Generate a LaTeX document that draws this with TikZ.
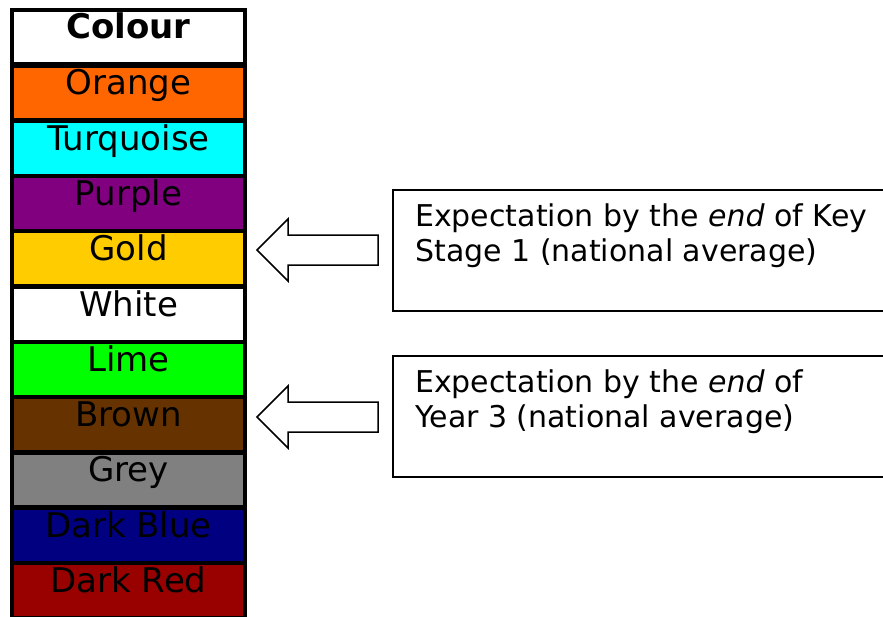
\documentclass[tikz,border=0pt]{standalone}
\usepackage{fontspec}
\setmainfont{DejaVu Sans}
\definecolor{orangeband}{HTML}{FF6600}
\definecolor{turquoiseband}{HTML}{00FFFF}
\definecolor{purpleband}{HTML}{800080}
\definecolor{goldband}{HTML}{FFCC00}
\definecolor{limeband}{HTML}{00FF00}
\definecolor{brownband}{HTML}{663300}
\definecolor{greyband}{HTML}{808080}
\definecolor{darkblueband}{HTML}{000080}
\definecolor{darkredband}{HTML}{990000}

\begin{document}
\begin{tikzpicture}[x=1pt,y=1pt,
    band/.style={draw=black,line width=4.5pt},
    bandtext/.style={anchor=base,font=\fontsize{34}{34}\selectfont},
    notebox/.style={draw=black,line width=1.5pt},
    notetext/.style={anchor=north west,inner sep=0pt,align=left,font=\fontsize{30}{35}\selectfont},
    blockarrow/.style={draw=black,line width=1.5pt,fill=white,line join=miter}]
        \useasboundingbox(0,0)rectangle(883,-616);

        % colour column
        \draw[band,fill=white](12,-10)rectangle(245,-64);
        \node[bandtext](head)at(128.5,-38){\bfseries Colour};
        \foreach \name/\col [count=\i] in {Orange/orangeband,Turquoise/turquoiseband,Purple/purpleband,Gold/goldband,White/white,Lime/limeband,Brown/brownband,Grey/greyband,Dark Blue/darkblueband,Dark Red/darkredband}{
            \draw[band,fill=\col](12,-10-55.3*\i)rectangle(245,-10-55.3*\i-55.3);
            \node[bandtext](row\i)at(128.5,-10-55.3*\i-29.5){\name};
        }

        % arrows
        \foreach \y in {250,417}{
            \draw[blockarrow](257,-\y)--(288,-\y+31)--(288,-\y+15)--(378,-\y+15)--(378,-\y-15)--(288,-\y-15)--(288,-\y-31)--cycle;
        }

        % note boxes
        \draw[notebox](393,-190)rectangle(900,-311);
        \node[notetext](ks1)at(415,-204){Expectation by the \emph{end} of Key\\Stage 1 (national average)};
        \draw[notebox](393,-356)rectangle(900,-477);
        \node[notetext](y3)at(415,-370){Expectation by the \emph{end} of\\Year 3 (national average)};
    \end{tikzpicture}
\end{document}
